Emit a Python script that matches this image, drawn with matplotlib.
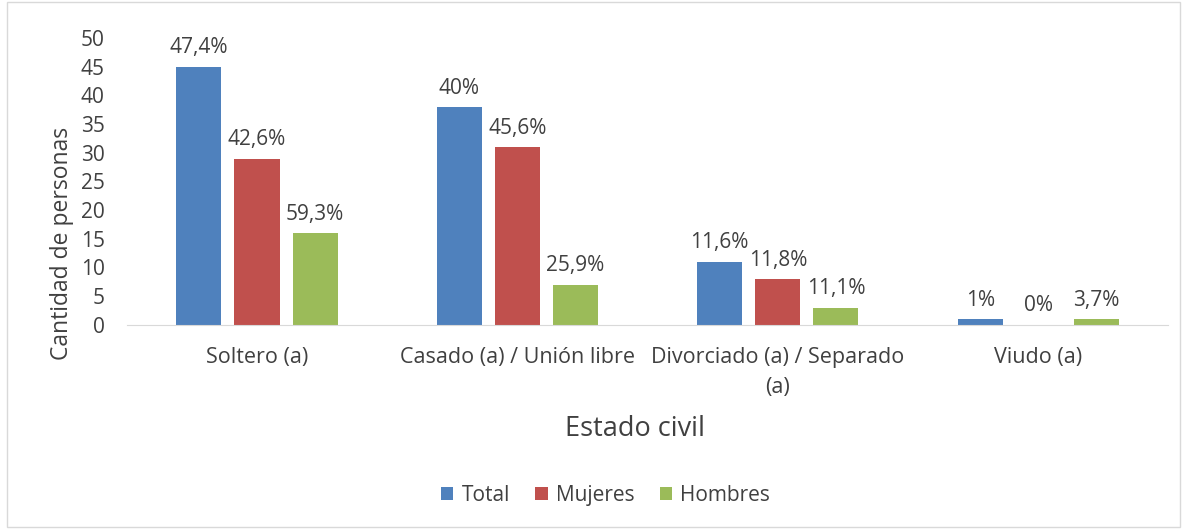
import numpy as np
import matplotlib.pyplot as plt
from matplotlib.patches import Rectangle

# data
categorias = ['Soltero (a)', 'Casado (a) / Unión libre',
              'Divorciado (a) / Separado\n(a)', 'Viudo (a)']
total = [45, 38, 11, 1]
mujeres = [29, 31, 8, 0]
hombres = [16, 7, 3, 1]
etiq_total = ['47,4%', '40%', '11,6%', '1%']
etiq_mujeres = ['42,6%', '45,6%', '11,8%', '0%']
etiq_hombres = ['59,3%', '25,9%', '11,1%', '3,7%']

plt.rcParams['font.family'] = ['Open Sans', 'DejaVu Sans']
txt = '#404040'
fs = 15

fig = plt.figure(figsize=(11.85, 5.29), dpi=100)
ax = fig.add_axes([0.107, 0.386, 0.879, 0.542])

x = np.arange(len(categorias))
w = 0.173
gap = 0.05
series = [(total, etiq_total, '#4F81BD', 'Total'),
          (mujeres, etiq_mujeres, '#C0504D', 'Mujeres'),
          (hombres, etiq_hombres, '#9BBB59', 'Hombres')]

for i, (vals, labs, col, name) in enumerate(series):
    pos = x + (i - 1) * (w + gap)
    ax.bar(pos, vals, width=w, color=col, label=name)
    for px, v, lab in zip(pos, vals, labs):
        ax.annotate(lab, (px, v), xytext=(0, 6), textcoords='offset points',
                    ha='center', va='bottom', fontsize=fs, color=txt)

ax.set_xlim(-0.5, len(categorias) - 0.5)
ax.set_ylim(0, 50)
ax.set_yticks(range(0, 51, 5))
ax.set_xticks(x)
ax.set_xticklabels(categorias, fontsize=15.5, color=txt, linespacing=1.55)
ax.tick_params(axis='y', labelsize=fs, labelcolor=txt, length=0, pad=16)
ax.tick_params(axis='x', length=0, pad=16)
for s in ['top', 'right', 'left']:
    ax.spines[s].set_visible(False)
ax.spines['bottom'].set_color('#D9D9D9')

# axis titles placed like the original
fig.text(62 / 1185, 1 - 243 / 529, 'Cantidad de personas', rotation=90,
         ha='center', va='center', fontsize=16.5, color=txt)
fig.text(635 / 1185, 1 - 429 / 529, 'Estado civil',
         ha='center', va='center', fontsize=19.5, color=txt)

ax.legend(loc='center', bbox_to_anchor=(0.511, 0.064), bbox_transform=fig.transFigure,
          ncol=3, frameon=False, fontsize=fs, labelcolor=txt,
          handlelength=0.6, handleheight=0.6, handletextpad=0.4, columnspacing=1.2)

fig.patches.append(Rectangle((0.006, 0.004), 0.99, 0.992, transform=fig.transFigure,
                             fill=False, edgecolor='#D9D9D9', linewidth=1))

fig.savefig('out.png', dpi=100, facecolor='white')
